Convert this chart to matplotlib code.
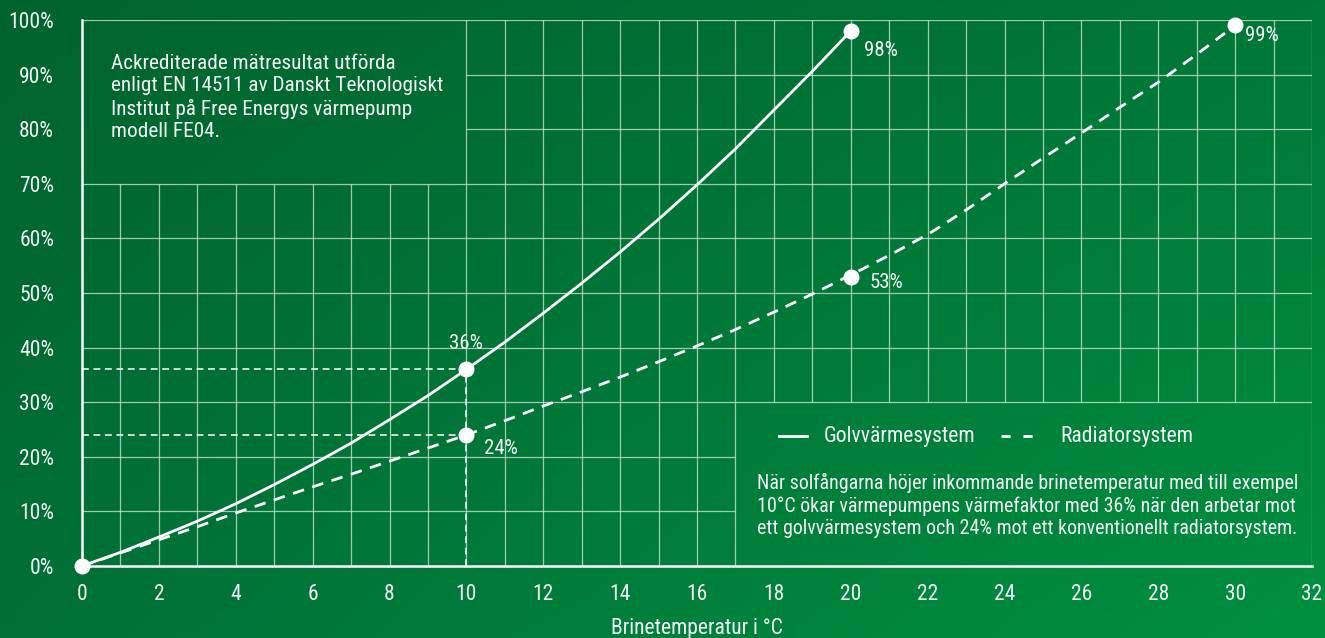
import numpy as np
import matplotlib
matplotlib.use("Agg")
import matplotlib.pyplot as plt
from matplotlib import font_manager

# ---- data ----
golv_x = list(range(0, 21))
golv_y = [0, 2.5, 5.3, 8.2, 11.4, 14.9, 18.6, 22.5, 26.8, 31.2, 36,
          41, 46.3, 51.8, 57.5, 63.5, 69.8, 76.4, 83.5, 90.6, 98]
rad_x = list(range(0, 31))
rad_y = [0, 2.4, 4.8, 7.2, 9.7, 12.1, 14.5, 16.8, 19.2, 21.6, 24,
         26.6, 29.3, 31.9, 34.6, 37.4, 40.3, 43.3, 46.5, 49.8, 53.3,
         56.9, 60.7, 65.2, 70, 74.7, 79.3, 84, 88.6, 93.7, 99]
golv_mark_x = [0, 10, 20]
golv_mark_y = [0, 36, 98]
rad_mark_x = [10, 20, 30]
rad_mark_y = [24, 53, 99]
x_ticks = list(range(0, 33, 2))
y_ticks = list(range(0, 101, 10))

# ---- font: pick a narrow one if available ----
names = {f.name for f in font_manager.fontManager.ttflist}
FONT = "DejaVu Sans"
for cand in ["Liberation Sans Narrow", "Roboto Condensed", "Roboto", "Liberation Sans"]:
    if cand in names:
        FONT = cand
        break
plt.rcParams["font.family"] = [FONT, "DejaVu Sans"]
TXT = "#f2f7f2"
GRID = "#d6e9da"

fig = plt.figure(figsize=(13.25, 6.38), dpi=100)

# background gradient
bg = fig.add_axes([0, 0, 1, 1], zorder=-10)
bg.axis("off")
tl, tr = np.array([0x00, 0x63, 0x2f]), np.array([0x00, 0x78, 0x38])
bl, br = np.array([0x00, 0x70, 0x38]), np.array([0x00, 0x90, 0x40])
u = np.linspace(0, 1, 300)[None, :, None]
v = np.linspace(0, 1, 150)[:, None, None]
img = (tl * (1 - u) * (1 - v) + tr * u * (1 - v) + bl * (1 - u) * v + br * u * v) / 255.0
bg.imshow(img, aspect="auto", extent=[0, 1, 0, 1], origin="upper")
bg.set_xlim(0, 1); bg.set_ylim(0, 1)

ax = fig.add_axes([82 / 1325, 72 / 638, 1230 / 1325, 546 / 638])
ax.set_facecolor("none")
ax.set_xlim(0, 32)
ax.set_ylim(0, 100)

# grid, leaving the two text boxes free
gkw = dict(color=GRID, lw=0.9, alpha=0.75, zorder=1)
for xv in range(1, 33):
    if xv < 10:
        ax.vlines(xv, 0, 70, **gkw)
    elif xv > 17 and xv < 32:
        ax.vlines(xv, 30, 100, **gkw)
    else:
        ax.vlines(xv, 0, 100, **gkw)
for yv in range(10, 101, 10):
    if yv > 70 and yv < 100:
        ax.hlines(yv, 10, 32, **gkw)
    elif yv < 30:
        ax.hlines(yv, 0, 17, **gkw)
    else:
        ax.hlines(yv, 0, 32, **gkw)

for s in ["top", "right"]:
    ax.spines[s].set_visible(False)
for s in ["left", "bottom"]:
    ax.spines[s].set_color("white")
    ax.spines[s].set_linewidth(1.8)
    ax.spines[s].set_zorder(3)

ax.set_xticks(x_ticks)
ax.set_yticks(y_ticks)
ax.set_yticklabels([f"{t}%" for t in y_ticks])
ax.tick_params(length=0, colors=TXT, labelsize=15.5)
ax.tick_params(axis="x", pad=13)
ax.tick_params(axis="y", pad=20)

# reference dashed guides at 10 °C
ax.plot([0, 10], [golv_mark_y[1], golv_mark_y[1]], color="white", lw=1.1,
        dashes=(4.5, 3.0), zorder=2)
ax.plot([0, 10], [rad_mark_y[0], rad_mark_y[0]], color="white", lw=1.1,
        dashes=(4.5, 3.0), zorder=2)
ax.plot([10, 10], [0, golv_mark_y[1]], color="white", lw=1.1,
        dashes=(4.5, 3.0), zorder=2)

# curves
ax.plot(golv_x, golv_y, color="white", lw=2.0, solid_capstyle="round", zorder=4)
ax.plot(rad_x, rad_y, color="white", lw=2.0, dashes=(4.2, 3.1), zorder=4)
ax.plot(golv_mark_x, golv_mark_y, "o", color="white", ms=11.5, mec="none",
        zorder=5, clip_on=False)
ax.plot(rad_mark_x, rad_mark_y, "o", color="white", ms=11.5, mec="none",
        zorder=5, clip_on=False)

fs = 15
ax.text(10, 40.7, f"{golv_mark_y[1]}%", color=TXT, fontsize=fs, ha="center", va="center")
ax.text(10.45, 21.5, f"{rad_mark_y[0]}%", color=TXT, fontsize=fs, ha="left", va="center")
ax.text(20.5, 51.9, f"{rad_mark_y[1]}%", color=TXT, fontsize=fs, ha="left", va="center")
ax.text(20.35, 94.4, f"{golv_mark_y[2]}%", color=TXT, fontsize=fs, ha="left", va="center")
ax.text(30.25, 97.2, f"{rad_mark_y[2]}%", color=TXT, fontsize=fs, ha="left", va="center",
        clip_on=False)

# top-left info box text
ax.text(0.76, 93.7,
        "Ackrediterade mätresultat utförda\nenligt EN 14511 av Danskt Teknologiskt\n"
        "Institut på Free Energys värmepump\nmodell FE04.",
        color=TXT, fontsize=15.3, ha="left", va="top", linespacing=1.2)

# bottom-right legend box
ax.plot([18.13, 18.86], [23.8, 23.8], color="white", lw=2.0, zorder=4)
ax.text(19.3, 23.8, "Golvvärmesystem", color=TXT, fontsize=15.6, ha="left", va="center")
ax.plot([23.9, 24.75], [23.8, 23.8], color="white", lw=2.0, dashes=(3.3, 4.6), zorder=4)
ax.text(25.45, 23.8, "Radiatorsystem", color=TXT, fontsize=15.6, ha="left", va="center")
ax.text(17.55, 17.0,
        "När solfångarna höjer inkommande brinetemperatur med till exempel\n"
        "10°C ökar värmepumpens värmefaktor med 36% när den arbetar mot\n"
        "ett golvvärmesystem och 24% mot ett konventionellt radiatorsystem.",
        color=TXT, fontsize=14.4, ha="left", va="top", linespacing=1.2)

fig.text(697 / 1325, 20 / 638, "Brinetemperatur i °C", color=TXT, fontsize=15.5,
         ha="center", va="top")

fig.savefig("out.png", dpi=100)
